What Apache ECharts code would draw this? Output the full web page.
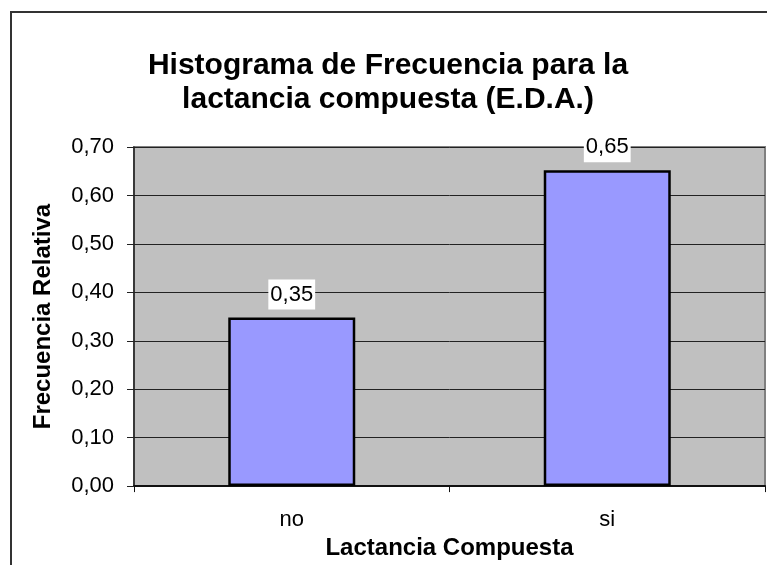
<!DOCTYPE html>
<html>
<head>
<meta charset="utf-8">
<title>Histograma de Frecuencia</title>
<script src="https://cdn.jsdelivr.net/npm/echarts@6/dist/echarts.min.js"></script>
<style>
    html, body { margin: 0; padding: 0; background: #fff; }
    #lactancia { width: 767px; height: 565px; }
</style>
</head>
<body>
<div id="lactancia"></div>
<script>
var categorias = ['no', 'si'];
var frecuenciaRelativa = [0.348, 0.652];
var yTickLabels = ['0,00', '0,10', '0,20', '0,30', '0,40', '0,50', '0,60', '0,70'];

var fuente = 'Liberation Sans, Arial, sans-serif';

window.onload = function () {
    histograma();
};

//histograma de frecuencia relativa
function histograma() {
    var myChart = echarts.init(document.getElementById('lactancia'));
    var option = {
        animation: false,
        textStyle: { fontFamily: fuente },
        title: {
            text: 'Histograma de Frecuencia para la\nlactancia compuesta (E.D.A.)',
            left: 383,
            top: 44,
            textAlign: 'center',
            textStyle: {
                fontFamily: fuente,
                fontSize: 30,
                fontWeight: 'bold',
                color: '#000',
                lineHeight: 34
            }
        },
        // marco exterior del grafico
        graphic: [{
            type: 'rect',
            shape: { x: 11, y: 12, width: 800, height: 600 },
            style: { fill: 'none', stroke: '#333', lineWidth: 2 },
            z: -10
        }],
        grid: {
            left: 134,
            top: 147,
            right: 2,
            bottom: 64,
            show: true,
            backgroundColor: '#C0C0C0',
            borderColor: '#808080',
            borderWidth: 2
        },
        xAxis: {
            type: 'category',
            data: categorias,
            boundaryGap: true,
            name: 'Lactancia Compuesta',
            nameLocation: 'middle',
            nameGap: 29,
            nameTextStyle: {
                fontFamily: fuente,
                fontSize: 24,
                fontWeight: 'bold',
                color: '#000'
            },
            axisLine: { lineStyle: { color: '#111', width: 2 } },
            axisTick: { show: true, length: 6, lineStyle: { color: '#111' } },
            axisLabel: {
                margin: 23,
                fontFamily: fuente,
                fontSize: 22,
                color: '#000'
            }
        },
        yAxis: {
            type: 'value',
            min: 0,
            max: 0.7,
            interval: 0.1,
            name: 'Frecuencia Relativa',
            nameLocation: 'middle',
            nameRotate: 90,
            nameGap: 79,
            nameTextStyle: {
                fontFamily: fuente,
                fontSize: 24,
                fontWeight: 'bold',
                color: '#000'
            },
            axisLine: { show: true, lineStyle: { color: '#222', width: 1.5 } },
            axisTick: { show: true, length: 7, lineStyle: { color: '#222' } },
            axisLabel: {
                margin: 20,
                fontFamily: fuente,
                fontSize: 22,
                color: '#000',
                formatter: function (value, index) {
                    return yTickLabels[index];
                }
            },
            splitLine: { show: true, lineStyle: { color: '#222', width: 1 } }
        },
        series: [{
            name: 'Frecuencia Relativa',
            type: 'bar',
            data: frecuenciaRelativa,
            barWidth: 127,
            itemStyle: {
                color: '#9999FF',
                borderColor: '#000',
                borderWidth: 2.5
            },
            label: {
                show: true,
                position: 'top',
                distance: 8,
                fontFamily: fuente,
                fontSize: 22,
                color: '#000',
                backgroundColor: '#fff',
                padding: [4, 2, 4, 2],
                formatter: function (p) {
                    return p.value.toFixed(2).replace('.', ',');
                }
            }
        }]
    };
    myChart.setOption(option);
}
</script>
</body>
</html>
